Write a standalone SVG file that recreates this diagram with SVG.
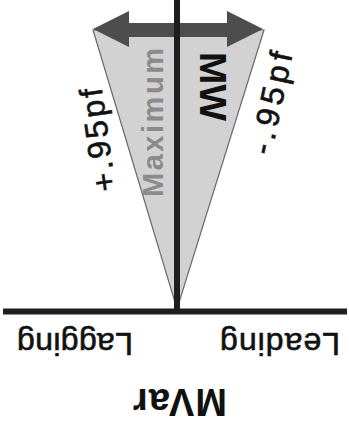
<svg xmlns="http://www.w3.org/2000/svg" width="349" height="424" viewBox="0 0 349 424">
  <style>
    .lbl { font-family: "Liberation Sans", Arial, sans-serif; fill: #111; }
    .bold { font-weight: bold; }
    .thick { stroke: #111; stroke-width: 0.6; }
  </style>
  <rect width="349" height="424" fill="#ffffff"/>
  <g id="cone">
    <polygon points="93,30 264,30 177,309" fill="#d2d2d2" stroke="#6a6a6a" stroke-width="1.2"/>
  </g>
  <g id="mw-arrow">
    <polygon points="93,29 129,11 129,23 227,23 227,11 263,29 227,47 227,37 129,37 129,47" fill="#4d4d4d"/>
  </g>
  <g id="axes">
    <line x1="177" y1="0" x2="177" y2="310" stroke="#1e1e1e" stroke-width="6"/>
    <line x1="3" y1="311.5" x2="347" y2="311.5" stroke="#1e1e1e" stroke-width="6"/>
  </g>
  <g id="labels">
    <text class="lbl bold" transform="translate(163,197) rotate(-90)" font-size="29" style="fill:#8a8a8a" textLength="149" lengthAdjust="spacing">Maximum</text>
    <text class="lbl bold" transform="translate(200,52) rotate(90)" font-size="37" textLength="69" lengthAdjust="spacingAndGlyphs">MW</text>
    <text class="lbl thick" transform="translate(116,190) rotate(-98)" font-size="32" textLength="104" lengthAdjust="spacing">+.95pf</text>
    <text class="lbl thick" transform="translate(271,156) rotate(-78)" font-size="32" textLength="104" lengthAdjust="spacing">-.95pf</text>
    <text class="lbl thick" transform="translate(133,333) rotate(180)" font-size="32" textLength="116" lengthAdjust="spacing">Lagging</text>
    <text class="lbl thick" transform="translate(340,333) rotate(180)" font-size="32" textLength="120" lengthAdjust="spacing">Leading</text>
    <text class="lbl bold" transform="translate(227,389) rotate(180)" font-size="38" textLength="94" lengthAdjust="spacing">MVar</text>
  </g>
</svg>
